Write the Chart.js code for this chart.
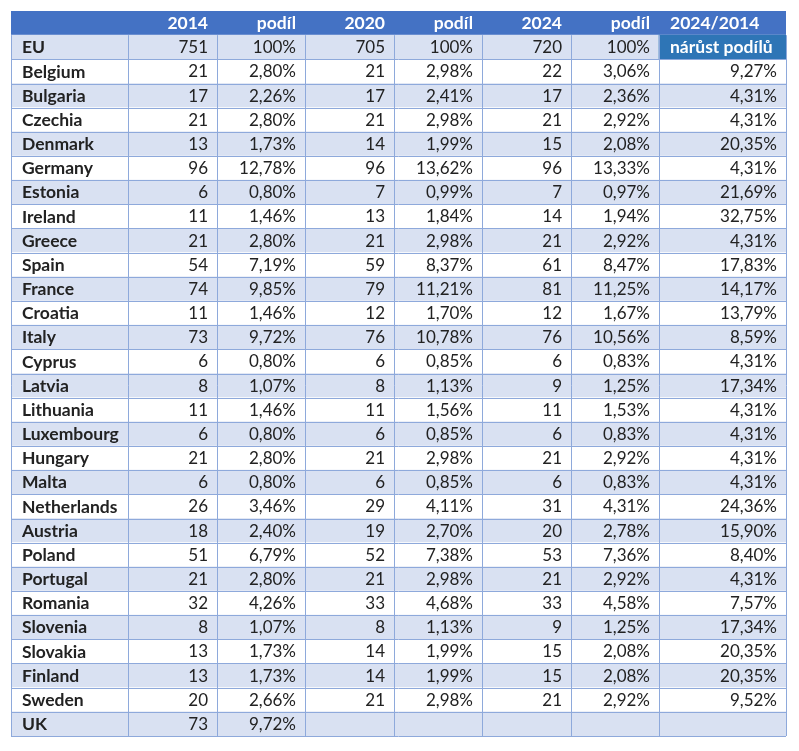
<!DOCTYPE html>
<html>
<head>
<meta charset="utf-8">
<script src="https://cdn.jsdelivr.net/npm/chart.js@4.4.1/dist/chart.umd.min.js"></script>
<style>
  body { margin: 0; background: #fff; }
  canvas { display: block; }
</style>
</head>
<body>
<canvas id="tableChart" width="799" height="751"></canvas>
<script>
// table data
const headers = ['', '2014', 'podíl', '2020', 'podíl', '2024', 'podíl', '2024/2014'];
const growthTitle = 'nárůst podílů';

const countries = ['EU', 'Belgium', 'Bulgaria', 'Czechia', 'Denmark', 'Germany', 'Estonia', 'Ireland',
  'Greece', 'Spain', 'France', 'Croatia', 'Italy', 'Cyprus', 'Latvia', 'Lithuania', 'Luxembourg',
  'Hungary', 'Malta', 'Netherlands', 'Austria', 'Poland', 'Portugal', 'Romania', 'Slovenia',
  'Slovakia', 'Finland', 'Sweden', 'UK'];

const seats2014 = [751, 21, 17, 21, 13, 96, 6, 11, 21, 54, 74, 11, 73, 6, 8, 11, 6, 21, 6, 26, 18, 51, 21, 32, 8, 13, 13, 20, 73];
const share2014 = [100, 2.80, 2.26, 2.80, 1.73, 12.78, 0.80, 1.46, 2.80, 7.19, 9.85, 1.46, 9.72, 0.80, 1.07, 1.46, 0.80,
  2.80, 0.80, 3.46, 2.40, 6.79, 2.80, 4.26, 1.07, 1.73, 1.73, 2.66, 9.72];
const seats2020 = [705, 21, 17, 21, 14, 96, 7, 13, 21, 59, 79, 12, 76, 6, 8, 11, 6, 21, 6, 29, 19, 52, 21, 33, 8, 14, 14, 21, null];
const share2020 = [100, 2.98, 2.41, 2.98, 1.99, 13.62, 0.99, 1.84, 2.98, 8.37, 11.21, 1.70, 10.78, 0.85, 1.13, 1.56, 0.85,
  2.98, 0.85, 4.11, 2.70, 7.38, 2.98, 4.68, 1.13, 1.99, 1.99, 2.98, null];
const seats2024 = [720, 22, 17, 21, 15, 96, 7, 14, 21, 61, 81, 12, 76, 6, 9, 11, 6, 21, 6, 31, 20, 53, 21, 33, 9, 15, 15, 21, null];
const share2024 = [100, 3.06, 2.36, 2.92, 2.08, 13.33, 0.97, 1.94, 2.92, 8.47, 11.25, 1.67, 10.56, 0.83, 1.25, 1.53, 0.83,
  2.92, 0.83, 4.31, 2.78, 7.36, 2.92, 4.58, 1.25, 2.08, 2.08, 2.92, null];
const growth = [null, 9.27, 4.31, 4.31, 20.35, 4.31, 21.69, 32.75, 4.31, 17.83, 14.17, 13.79, 8.59, 4.31, 17.34, 4.31, 4.31,
  4.31, 4.31, 24.36, 15.90, 8.40, 4.31, 7.57, 17.34, 20.35, 20.35, 9.52, null];

// layout: column edges in px from the table's left side
const colEdges = [0, 117, 206, 294, 383, 471, 560, 648, 775];
const tableWidth = colEdges[colEdges.length - 1];

const headerBlue = '#4472C4';
const darkBlue = '#2E75B6';
const stripe = '#D9E1F2';
const lineColor = '#8EA9DB';
const textColor = '#222222';
const fontName = 'Lato';

const rowKeys = ['header'].concat(countries);

function fmtShare(v) {
  if (v === null || v === undefined) return '';
  if (v === 100) return '100%';
  return v.toFixed(2).replace('.', ',') + '%';
}
function fmtNum(v) {
  return (v === null || v === undefined) ? '' : String(v);
}

const rowColors = rowKeys.map((k, i) => {
  if (i === 0) return headerBlue;
  return (i - 1) % 2 === 0 ? stripe : '#ffffff';
});

// grid lines + cell texts drawn with the chart's scales
const tablePlugin = {
  id: 'tablePlugin',
  afterDatasetsDraw(chart) {
    const { ctx, scales: { x, y } } = chart;
    const band = y.getPixelForValue(1) - y.getPixelForValue(0);
    const rowTop = i => y.getPixelForValue(i) - band / 2;
    const left = x.getPixelForValue(0);
    const right = x.getPixelForValue(tableWidth);
    const bodyTop = rowTop(1);
    const bottom = rowTop(rowKeys.length);

    ctx.save();
    ctx.strokeStyle = lineColor;
    ctx.lineWidth = 1;
    ctx.beginPath();
    for (let i = 2; i <= rowKeys.length; i++) {
      const py = Math.round(rowTop(i)) + 0.5;
      ctx.moveTo(left, py);
      ctx.lineTo(right, py);
    }
    colEdges.forEach(e => {
      const px = Math.round(x.getPixelForValue(e)) + 0.5;
      ctx.moveTo(px, bodyTop);
      ctx.lineTo(px, bottom);
    });
    ctx.stroke();

    ctx.textBaseline = 'middle';
    const drawText = (txt, col, rowIdx, align, bold, color) => {
      if (!txt) return;
      ctx.font = bold ? 'bold 17.5px ' + fontName : '17px ' + fontName;
      ctx.fillStyle = color;
      ctx.textAlign = align;
      const cy = y.getPixelForValue(rowIdx) + 0.5;
      const px = align === 'left'
        ? x.getPixelForValue(colEdges[col]) + 11
        : x.getPixelForValue(colEdges[col + 1]) - 9;
      ctx.fillText(txt, px, cy);
    };

    headers.forEach((h, c) => {
      drawText(h, c, 0, c === 7 ? 'left' : 'right', true, '#ffffff');
    });

    countries.forEach((name, r) => {
      const ri = r + 1;
      drawText(name, 0, ri, 'left', true, textColor);
      drawText(fmtNum(seats2014[r]), 1, ri, 'right', false, textColor);
      drawText(fmtShare(share2014[r]), 2, ri, 'right', false, textColor);
      drawText(fmtNum(seats2020[r]), 3, ri, 'right', false, textColor);
      drawText(fmtShare(share2020[r]), 4, ri, 'right', false, textColor);
      drawText(fmtNum(seats2024[r]), 5, ri, 'right', false, textColor);
      drawText(fmtShare(share2024[r]), 6, ri, 'right', false, textColor);
      if (r === 0) {
        drawText(growthTitle, 7, ri, 'left', true, '#ffffff');
      } else {
        drawText(fmtShare(growth[r]), 7, ri, 'right', false, textColor);
      }
    });
    ctx.restore();
  }
};

const ctx = document.getElementById('tableChart');
new Chart(ctx, {
  type: 'bar',
  data: {
    labels: rowKeys,
    datasets: [
      {
        // the dark "nárůst podílů" cell
        data: rowKeys.map((k, i) => i === 1 ? [colEdges[7], tableWidth] : null),
        backgroundColor: darkBlue,
        order: 0
      },
      {
        // row stripes
        data: rowKeys.map(() => [0, tableWidth]),
        backgroundColor: rowColors,
        order: 1
      }
    ]
  },
  options: {
    indexAxis: 'y',
    responsive: false,
    animation: false,
    events: [],
    layout: { padding: { left: 11, right: 13, top: 11, bottom: 15 } },
    datasets: {
      bar: {
        grouped: false,
        barPercentage: 1,
        categoryPercentage: 1,
        borderWidth: 0,
        borderSkipped: false
      }
    },
    scales: {
      x: { type: 'linear', min: 0, max: tableWidth, display: false },
      y: { type: 'category', offset: true, display: false }
    },
    plugins: {
      legend: { display: false },
      tooltip: { enabled: false }
    }
  },
  plugins: [tablePlugin]
});
</script>
</body>
</html>
